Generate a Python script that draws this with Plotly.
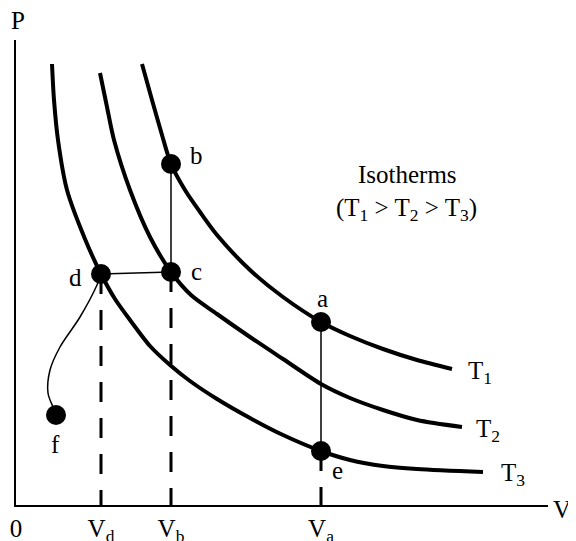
import plotly.graph_objects as go

# Isotherm curves (V, P)
t1_v = [126, 136, 146, 155, 169, 184, 201, 234, 267, 305, 334, 367, 401, 436]
t1_p = [441, 405, 370, 341, 315, 293, 270, 235, 208, 183, 169, 156, 145, 136]
t2_v = [84, 91, 98, 114, 134, 155, 175, 201, 234, 267, 305, 334, 367, 401, 446]
t2_p = [432, 398, 365, 315, 268, 233, 210, 191, 168, 146, 121, 107, 95, 85, 78]
t3_v = [36, 38, 42, 51, 69, 85, 99, 114, 134, 154, 174, 201, 234, 267, 305, 334, 367, 401, 467]
t3_p = [441, 405, 365, 315, 266, 231, 206, 185, 159, 140, 124, 106, 87, 70, 54, 45, 39, 36, 33]

# state points
pt_names = ["a", "b", "c", "d", "e", "f"]
pt_v = [305, 155, 155, 85, 305, 40]
pt_p = [183, 341, 233, 231, 54, 90]

# d -> f path
df_v = [85, 81, 64, 44, 34, 32, 37, 40]
df_p = [231, 220, 188, 158, 135, 112, 98, 90]

tick_vals = [0, 85, 155, 305]
tick_text = ["0", "V<sub>d</sub>", "V<sub>b</sub>", "V<sub>a</sub>"]

FONT = "Liberation Serif"
fig = go.Figure()

for vv, pp in [(t1_v, t1_p), (t2_v, t2_p), (t3_v, t3_p)]:
    fig.add_trace(go.Scatter(x=vv, y=pp, mode="lines",
                             line=dict(color="black", width=4, shape="spline", smoothing=0.8),
                             hoverinfo="skip"))

pv = dict(zip(pt_names, pt_v))
pp_ = dict(zip(pt_names, pt_p))
# process lines (thin)
for s, t in [("b", "c"), ("c", "d"), ("a", "e")]:
    fig.add_trace(go.Scatter(x=[pv[s], pv[t]], y=[pp_[s], pp_[t]], mode="lines",
                             line=dict(color="black", width=1.5)))
fig.add_trace(go.Scatter(x=df_v, y=df_p, mode="lines",
                         line=dict(color="black", width=1.5, shape="spline", smoothing=1.0)))

# dashed drop lines
for name in ["d", "c", "e"]:
    fig.add_trace(go.Scatter(x=[pv[name], pv[name]], y=[pp_[name], 0], mode="lines",
                             line=dict(color="black", width=3, dash="20px,16px")))

# markers
fig.add_trace(go.Scatter(x=pt_v, y=pt_p, mode="markers",
                         marker=dict(color="black", size=20), cliponaxis=False))

# labels (data coordinates)
labels = [
    ("a", 306, 207), ("b", 180, 350), ("c", 180, 234), ("d", 59, 228),
    ("e", 321, 35), ("f", 39, 61),
    ("T<sub>1</sub>", 464, 133), ("T<sub>2</sub>", 472, 75), ("T<sub>3</sub>", 497, 31),
    ("Isotherms", 391, 331), ("(T<sub>1</sub> > T<sub>2</sub> > T<sub>3</sub>)", 390, 296),
]
for txt, x, y in labels:
    fig.add_annotation(x=x, y=y, text=txt, showarrow=False, xanchor="center", yanchor="middle",
                       font=dict(family=FONT, size=25, color="black"))

# axis titles (paper coordinates)
for txt, x, y in [("P", 0.004, 1.043), ("V", 1.026, -0.009)]:
    fig.add_annotation(x=x, y=y, xref="paper", yref="paper", text=txt, showarrow=False,
                       xanchor="center", yanchor="middle",
                       font=dict(family=FONT, size=25, color="black"))

# page body has an 8px default margin, so the figure is 8px smaller and shifted
fig.update_layout(
    width=568, height=533, margin=dict(l=8, r=28, t=32, b=36),
    plot_bgcolor="white", paper_bgcolor="white", showlegend=False,
    xaxis=dict(range=[0, 532], showgrid=False, zeroline=False, showline=True,
               linecolor="black", linewidth=2, automargin=False,
               tickvals=tick_vals, ticktext=tick_text, ticks="", ticklabelstandoff=0,
               tickfont=dict(family=FONT, size=25, color="black")),
    yaxis=dict(range=[0, 465], showgrid=False, zeroline=False, showline=True,
               linecolor="black", linewidth=2, automargin=False,
               showticklabels=False, ticks=""),
)
fig.write_html("out.html")
